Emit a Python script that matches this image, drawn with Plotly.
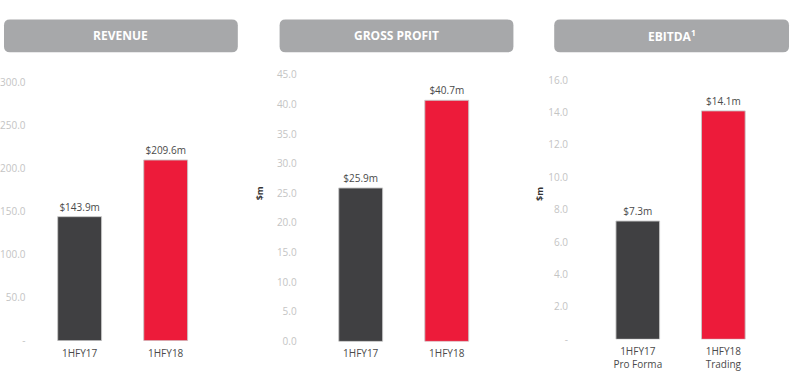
import plotly.graph_objects as go

W, H = 792, 391

# ---- data ----
rev_cats = ["1HFY17", "1HFY18"]
rev_vals = [143.9, 209.6]
rev_text = ["$143.9m", "$209.6m"]
rev_tickvals = [0, 50, 100, 150, 200, 250, 300]
rev_ticktext = ["-", "50.0", "100.0", "150.0", "200.0", "250.0", "300.0"]

gp_cats = ["1HFY17", "1HFY18"]
gp_vals = [25.9, 40.7]
gp_text = ["$25.9m", "$40.7m"]
gp_tickvals = [0, 5, 10, 15, 20, 25, 30, 35, 40, 45]
gp_ticktext = ["0.0", "5.0", "10.0", "15.0", "20.0", "25.0", "30.0", "35.0", "40.0", "45.0"]

eb_cats = ["1HFY17<br>Pro Forma", "1HFY18<br>Trading"]
eb_vals = [7.3, 14.1]
eb_text = ["$7.3m", "$14.1m"]
eb_tickvals = [0, 2, 4, 6, 8, 10, 12, 14, 16]
eb_ticktext = ["-", "2.0", "4.0", "6.0", "8.0", "10.0", "12.0", "14.0", "16.0"]

titles = ["REVENUE", "GROSS PROFIT", "EBITDA<sup>1</sup>"]

# ---- styles ----
DARK = "#404042"
RED = "#ED1B3A"
HEAD = "#A7A8AA"
TICK = "#C4C4C4"
TXT = "#4A4A4A"
FONT = "Open Sans"

def px(x):
    return x / W

def py(y):
    return 1 - y / H

panels = [
    dict(cats=rev_cats, vals=rev_vals, text=rev_text, tv=rev_tickvals, tt=rev_ticktext,
         rng=[0, 300], xd=[32.75, 205.75], yd=[346, 77], standoff=10),
    dict(cats=gp_cats, vals=gp_vals, text=gp_text, tv=gp_tickvals, tt=gp_ticktext,
         rng=[0, 45], xd=[315.25, 488.25], yd=[346.7, 69.5], standoff=20),
    dict(cats=eb_cats, vals=eb_vals, text=eb_text, tv=eb_tickvals, tt=eb_ticktext,
         rng=[0, 16], xd=[594, 766], yd=[344.5, 75], standoff=26),
]

fig = go.Figure()
layout = {}
for i, p in enumerate(panels):
    n = "" if i == 0 else str(i + 1)
    fig.add_trace(go.Bar(
        x=p["cats"], y=p["vals"], text=p["text"], textposition="outside",
        textfont=dict(family=FONT, size=10, color=TXT),
        cliponaxis=False, width=0.51,
        marker=dict(color=[DARK, RED], line=dict(color="rgba(200,200,200,0.9)", width=1)),
        xaxis="x" + n, yaxis="y" + n, showlegend=False, hoverinfo="skip",
    ))
    layout["xaxis" + n] = dict(
        domain=[px(p["xd"][0]), px(p["xd"][1])], anchor="y" + n,
        showgrid=False, showline=False, zeroline=False, ticks="",
        ticklabelstandoff=5,
        tickfont=dict(family=FONT, size=10, color=TXT), fixedrange=True,
    )
    layout["yaxis" + n] = dict(
        domain=[py(p["yd"][0]), py(p["yd"][1])], anchor="x" + n,
        range=p["rng"], tickvals=p["tv"], ticktext=p["tt"],
        showgrid=False, showline=False, zeroline=False, ticks="",
        ticklabelstandoff=p["standoff"],
        tickfont=dict(family=FONT, size=10, color=TICK), fixedrange=True,
    )

fig.update_layout(**layout)

# header boxes
def rrect(x0, y0, x1, y1, r):
    rx, ry = r / W, r / H
    X0, X1 = px(x0), px(x1)
    Y0, Y1 = py(y1), py(y0)  # bottom, top in paper
    return (f"M {X0+rx},{Y1} L {X1-rx},{Y1} Q {X1},{Y1} {X1},{Y1-ry} "
            f"L {X1},{Y0+ry} Q {X1},{Y0} {X1-rx},{Y0} L {X0+rx},{Y0} "
            f"Q {X0},{Y0} {X0},{Y0+ry} L {X0},{Y1-ry} Q {X0},{Y1} {X0+rx},{Y1} Z")

boxes = [(0, 12, 235, 46), (277, 12, 512, 46), (553, 12, 789, 46)]
shapes = []
annots = []
for (x0, y0, x1, y1), t in zip(boxes, titles):
    shapes.append(dict(type="path", path=rrect(x0, y0, x1, y1, 6), xref="paper", yref="paper",
                       fillcolor=HEAD, line=dict(width=0), layer="below"))
    annots.append(dict(x=px((x0 + x1) / 2), y=py((y0 + y1) / 2), xref="paper", yref="paper",
                       text=f"<b>{t}</b>", showarrow=False,
                       font=dict(family=FONT, size=12, color="white"),
                       xanchor="center", yanchor="middle"))

for xp in (257, 538):
    annots.append(dict(x=px(xp), y=py(193), xref="paper", yref="paper", text="<b>$m</b>",
                       showarrow=False, textangle=-90,
                       font=dict(family=FONT, size=9, color="#333333"),
                       xanchor="center", yanchor="middle"))

fig.update_layout(
    width=W, height=H, margin=dict(l=0, r=0, t=0, b=0),
    paper_bgcolor="white", plot_bgcolor="white",
    shapes=shapes, annotations=annots, bargap=0.49,
)

fig.write_html(
    "out.html",
    config={"displayModeBar": False, "staticPlot": True},
    post_script="document.body.style.margin='0';document.body.style.overflow='hidden';",
)
